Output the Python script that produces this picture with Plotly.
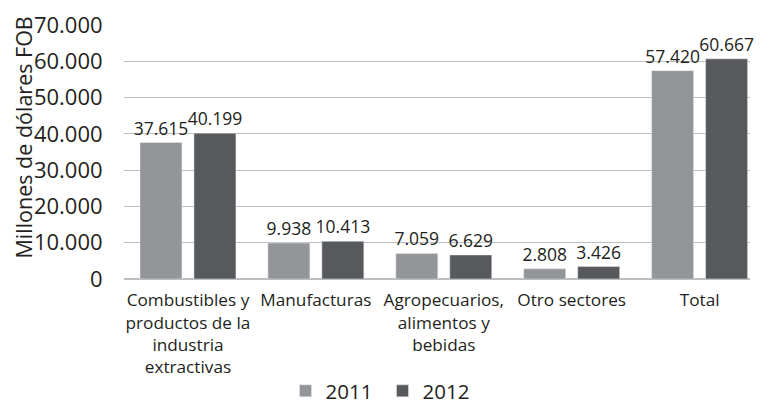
import plotly.graph_objects as go

categories = ["Combustibles y<br>productos de la<br>industria<br>extractivas", "Manufacturas",
              "Agropecuarios,<br>alimentos y<br>bebidas", "Otro sectores", "Total"]
values_2011 = [37615, 9938, 7059, 2808, 57420]
values_2012 = [40199, 10413, 6629, 3426, 60667]
labels_2011 = ["37.615", "9.938", "7.059", "2.808", "57.420"]
labels_2012 = ["40.199", "10.413", "6.629", "3.426", "60.667"]
tick_vals = [0, 10000, 20000, 30000, 40000, 50000, 60000, 70000]
tick_text = ["0", "10.000", "20.000", "30.000", "40.000", "50.000", "60.000", "70.000"]
y_title = "Millones de dólares FOB"

font = "Open Sans"
txt = "#231f20"
fig = go.Figure()
fig.add_trace(go.Bar(name="2011", x=list(range(5)), y=values_2011, text=labels_2011,
                     textposition="outside", marker_color="#939598", constraintext="none",
                     textfont=dict(size=17.5, color=txt, family=font), cliponaxis=False))
fig.add_trace(go.Bar(name="2012", x=list(range(5)), y=values_2012, text=labels_2012,
                     textposition="outside", marker_color="#58595b", constraintext="none",
                     textfont=dict(size=17.5, color=txt, family=font), cliponaxis=False))

# page body has an 8px margin, so the figure is sized/offset to fit the 762x407 window
fig.update_layout(
    width=754, height=399,
    margin=dict(l=116, r=12, t=17, b=128, autoexpand=False),
    paper_bgcolor="white", plot_bgcolor="white",
    barmode="group", bargap=0.156, bargroupgap=0.222,
    font=dict(family=font, color=txt),
    showlegend=True,
    legend=dict(orientation="h", x=0.258, xanchor="left", yref="container", y=0.04, yanchor="middle",
                font=dict(size=20.5, family=font, color=txt), traceorder="normal",
                itemwidth=30, entrywidth=52, entrywidthmode="pixels", tracegroupgap=0),
    annotations=[dict(text=y_title, textangle=-90, xref="paper", yref="paper",
                      x=-0.1605, y=0.555, xanchor="center", yanchor="middle", showarrow=False,
                      borderpad=0, font=dict(size=21.5, family=font, color=txt))],
)
fig.update_yaxes(range=[0, 70000], tickvals=tick_vals, ticktext=tick_text,
                 showgrid=True, gridcolor="#bcbec0", gridwidth=1, automargin=False,
                 tickfont=dict(size=22, family=font, color=txt),
                 zeroline=True, zerolinecolor="#bcbec0", ticks="outside", ticklen=16, tickcolor="white",
                 showline=False)
fig.update_xaxes(tickvals=list(range(5)), ticktext=categories, range=[-0.5, 4.394],
                 tickfont=dict(size=17.2, family=font, color=txt), showline=False, ticks="",
                 ticklabelstandoff=9, automargin=False)

fig.write_html("out.html")
